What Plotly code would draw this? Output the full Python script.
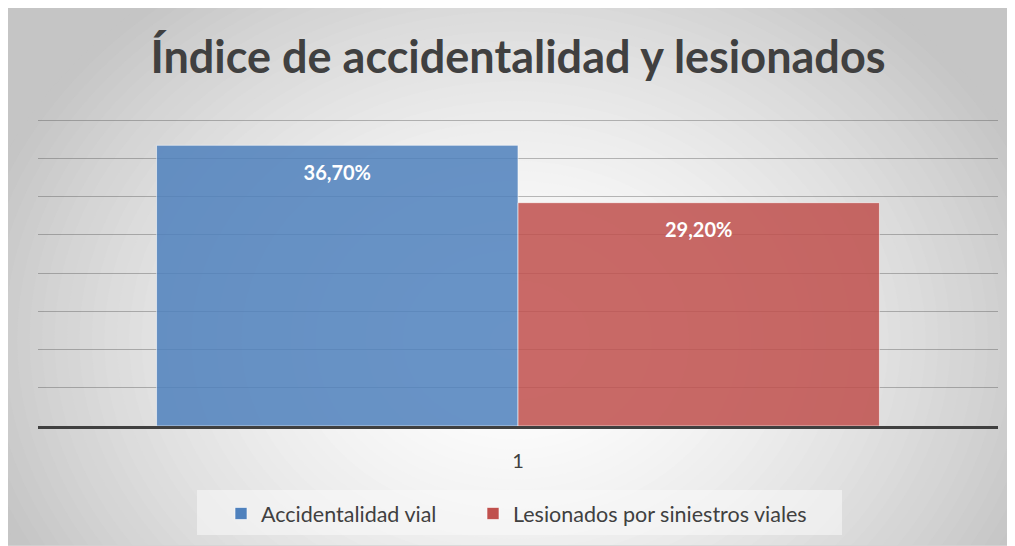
import plotly.graph_objects as go

categories = ["1"]
series_names = ["Accidentalidad vial", "Lesionados por siniestros viales"]
series_values = [[36.7], [29.2]]
series_colors = ["#4F81BD", "#C0504D"]
title_text = "Índice de accidentalidad y lesionados"

OFF = 8  # page body margin
YMAX = 40.4
W, H = 1015 - OFF, 546 - OFF
ML, MR, MT, MB = 38 - OFF, 17, 117 - OFF, 120
PW, PH = W - ML - MR, H - MT - MB
BARGAP = 0.247


def px2paper_x(px):
    return (px - OFF - ML) / PW


def px2paper_y(py):
    return (H - MB - (py - OFF)) / PH


legend_ids = ["legend", "legend2"]
legend_px = [221, 473]

fig = go.Figure()
for name, vals, col, lg in zip(series_names, series_values, series_colors, legend_ids):
    fig.add_trace(go.Bar(
        x=categories, y=vals, name=name, legend=lg,
        marker=dict(color=col, opacity=0.85,
                    line=dict(color="rgba(255,255,255,0.6)", width=1)),
    ))
for name, vals in zip(series_names, series_values):
    fig.add_trace(go.Scatter(
        x=categories, y=vals, name=name, showlegend=False,
        mode="markers+text", marker=dict(size=30, opacity=0),
        texttemplate="%{y:.2f}%", textposition="bottom center",
        textfont=dict(family="Lato", size=20, color="white", weight="bold"),
        hoverinfo="skip",
    ))

shapes = []
fx0, fx1 = px2paper_x(5), px2paper_x(1010)
fy0, fy1 = px2paper_y(546), px2paper_y(7)
cx, cy = 515, 340
RX = 560
RYF = 0.8
N = 45


def shade(t):
    return int(round(255 - 58 * (t ** 1.6)))


outer = shade(1.0)
shapes.append(dict(type="rect", xref="paper", yref="paper", x0=fx0, x1=fx1,
                   y0=fy0, y1=fy1, fillcolor=f"rgb({outer},{outer},{outer})",
                   line=dict(width=0), layer="below"))
for i in range(N):
    t = 1.0 * (1 - i / N)
    rx, ry = RX * t, RX * t * RYF
    g = shade(t)
    shapes.append(dict(type="circle", xref="paper", yref="paper",
                       x0=px2paper_x(cx - rx), x1=px2paper_x(cx + rx),
                       y0=px2paper_y(cy + ry), y1=px2paper_y(cy - ry),
                       fillcolor=f"rgb({g},{g},{g})", line=dict(width=0),
                       layer="below"))
for (a, b, c, d) in [(0, 5, 0, 560), (1010, 1030, 0, 560), (0, 1030, -20, 7)]:
    shapes.append(dict(type="rect", xref="paper", yref="paper",
                       x0=px2paper_x(a), x1=px2paper_x(b),
                       y0=px2paper_y(d), y1=px2paper_y(c),
                       fillcolor="white", line=dict(width=0), layer="below"))
shapes.append(dict(type="rect", xref="paper", yref="paper", x0=fx0, x1=fx1,
                   y0=fy0, y1=fy1, fillcolor="rgba(0,0,0,0)",
                   line=dict(color="#d4d4d4", width=1.5), layer="below"))
# legend box
shapes.append(dict(type="rect", xref="paper", yref="paper",
                   x0=px2paper_x(197), x1=px2paper_x(842),
                   y0=px2paper_y(535), y1=px2paper_y(490),
                   fillcolor="rgba(250,250,250,0.55)", line=dict(width=0),
                   layer="below"))

legend_common = dict(orientation="h", xanchor="left",
                     y=px2paper_y(493), yanchor="top",
                     bgcolor="rgba(0,0,0,0)",
                     font=dict(family="Lato", size=21.5, color="#404040"))

fig.update_layout(
    width=W, height=H,
    margin=dict(l=ML, r=MR, t=MT, b=MB),
    paper_bgcolor="white", plot_bgcolor="rgba(0,0,0,0)",
    separators=",.",
    barmode="group", bargap=BARGAP, bargroupgap=0,
    scattermode="group", scattergap=BARGAP,
    shapes=shapes,
    title=dict(text=title_text, x=(518 - OFF) / W, xanchor="center",
               y=1 - (57 - OFF) / H, yanchor="middle",
               font=dict(family="Lato", size=45, color="#404040", weight="bold")),
    xaxis=dict(showline=True, linecolor="#404040", linewidth=3,
               ticks="", ticklabelstandoff=15,
               tickfont=dict(family="Lato", size=20, color="#404040"),
               showgrid=False),
    yaxis=dict(range=[0, YMAX], dtick=5, showticklabels=False,
               showgrid=True, gridcolor="rgba(80,80,80,0.38)", gridwidth=1,
               zeroline=False),
    legend=dict(x=px2paper_x(legend_px[0]), **legend_common),
    legend2=dict(x=px2paper_x(legend_px[1]), **legend_common),
    showlegend=True,
)

fig.write_html("out.html")
